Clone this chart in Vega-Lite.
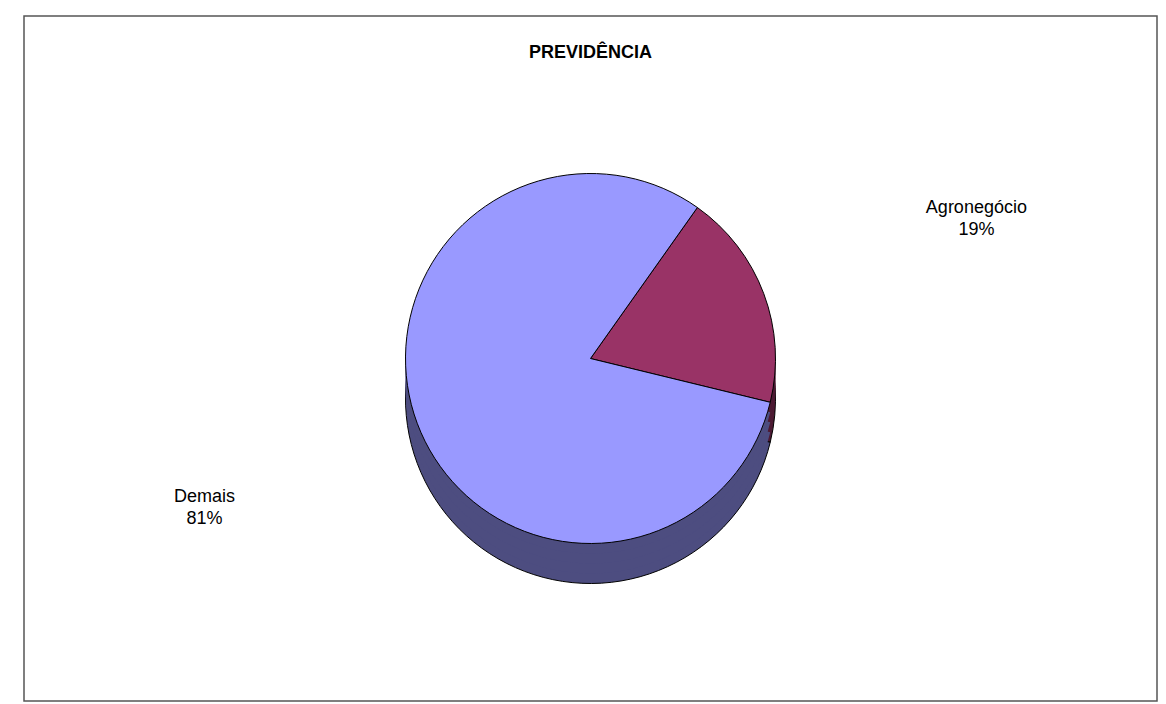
{
  "$schema": "https://vega.github.io/schema/vega-lite/v6.json",
  "autosize": {"type": "none"},
  "padding": {"left": 24, "top": 16, "right": 9, "bottom": 3},
  "width": 1133,
  "height": 685,
  "background": "white",
  "view": {"stroke": "#555555", "strokeWidth": 1.5, "fill": "white"},
  "title": {
    "text": "PREVIDÊNCIA",
    "font": "Liberation Sans",
    "fontSize": 18,
    "fontWeight": "bold",
    "color": "black",
    "anchor": "middle",
    "orient": "top",
    "baseline": "alphabetic",
    "offset": -60
  },
  "data": {
    "values": [
      {"category": "Agronegócio", "share": 0.19},
      {"category": "Demais", "share": 0.81}
    ]
  },
  "encoding": {
    "theta": {"field": "share", "type": "quantitative", "stack": true, "scale": {"range": [0.616, 6.8992]}},
    "order": {"field": "category", "sort": "ascending"}
  },
  "layer": [
    {
      "mark": {"type": "arc", "radius": 185, "yOffset": 40, "stroke": "black", "strokeWidth": 1},
      "encoding": {"color": {"condition": {"test": "datum.category == 'Demais'", "value": "#4D4D80"}, "value": "#4D1A33"}}
    },
    {
      "mark": {"type": "arc", "radius": 185, "yOffset": 30},
      "encoding": {"color": {"condition": {"test": "datum.category == 'Demais'", "value": "#4D4D80"}, "value": "#4D1A33"}}
    },
    {
      "mark": {"type": "arc", "radius": 185, "yOffset": 20},
      "encoding": {"color": {"condition": {"test": "datum.category == 'Demais'", "value": "#4D4D80"}, "value": "#4D1A33"}}
    },
    {
      "mark": {"type": "arc", "radius": 185, "yOffset": 10},
      "encoding": {"color": {"condition": {"test": "datum.category == 'Demais'", "value": "#4D4D80"}, "value": "#4D1A33"}}
    },
    {
      "mark": {"type": "arc", "radius": 185, "stroke": "black", "strokeWidth": 1},
      "encoding": {"color": {"condition": {"test": "datum.category == 'Demais'", "value": "#9999FF"}, "value": "#993366"}}
    },
    {
      "mark": {"type": "text", "radius": 412, "dy": -6, "font": "Liberation Sans", "fontSize": 18, "color": "black", "align": "center", "baseline": "middle"},
      "encoding": {"text": {"field": "category", "type": "nominal"}}
    },
    {
      "mark": {"type": "text", "radius": 412, "dy": 16, "font": "Liberation Sans", "fontSize": 18, "color": "black", "align": "center", "baseline": "middle"},
      "encoding": {"text": {"field": "share", "type": "quantitative", "format": ".0%"}}
    }
  ],
  "config": {
    "view": {"stroke": "#555555", "strokeWidth": 1.5}
  }
}
